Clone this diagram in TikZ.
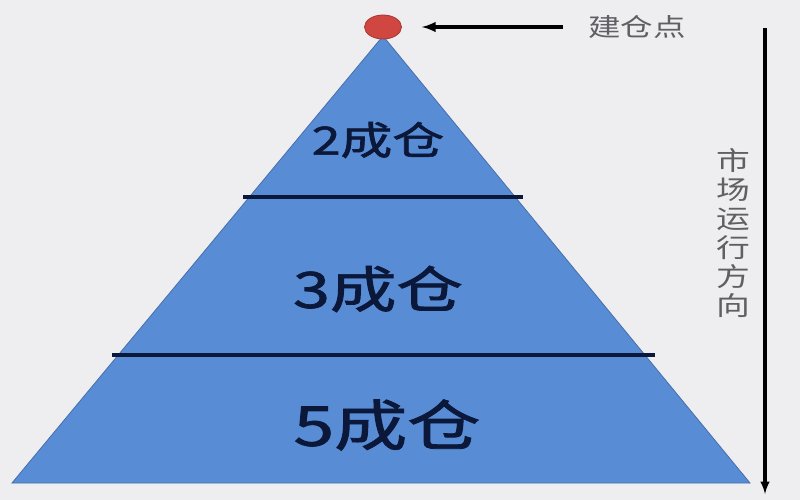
\documentclass[tikz,border=0pt]{standalone}
\usepackage{fontspec}
\newfontfamily\cjk{Noto Sans CJK SC}
\newfontfamily\cjkheavy{Noto Sans CJK SC}[FakeBold=1.4]
\usetikzlibrary{calc, shapes.geometric}
\definecolor{paperGrey}{RGB}{238, 237, 240}
\definecolor{pyrBlue}{RGB}{88, 141, 214}
\definecolor{pyrEdge}{RGB}{70, 110, 170}
\definecolor{levelNavy}{RGB}{12, 24, 58}
\definecolor{dotRed}{RGB}{208, 70, 64}
\definecolor{sideGrey}{RGB}{95, 95, 100}

\begin{document}
\begin{tikzpicture} [
        x=1pt, y=-1pt,
        level text/.style={text=levelNavy, inner sep=0pt, xscale=1.33},
        level line/.style={draw=levelNavy, line width=3.6pt},
        build dot/.style={draw=dotRed!80!black, fill=dotRed, ellipse, minimum width=37pt, minimum height=24pt, inner sep=0pt, line width=.8pt},
        side text/.style={text=sideGrey, inner sep=0pt, xscale=1.3},
        pointer/.style={-latex, line width=3.6pt, draw=black},
    ]

    % background
    \fill[paperGrey] (0,0) rectangle (800,500);
    \useasboundingbox (0,0) rectangle (800,500);

    % pyramid
    \coordinate (apex) at (383,36);
    \coordinate (base left) at (12,483);
    \coordinate (base right) at (750,483);
    \draw[pyrEdge, fill=pyrBlue, line width=.8pt] (apex) -- (base right) -- (base left) -- cycle;

    \coordinate (cut 1 left) at (243,197);
    \coordinate (cut 1 right) at (523,197);
    \coordinate (cut 2 left) at (112,355);
    \coordinate (cut 2 right) at (655,355);
    \draw[level line] (cut 1 left) -- (cut 1 right);
    \draw[level line] (cut 2 left) -- (cut 2 right);

    \path (378,140) node[level text, font=\cjkheavy\fontsize{39}{39}\selectfont] (level 2) {2成仓};
    \path (378,289) node[level text, font=\cjkheavy\fontsize{50}{50}\selectfont] (level 3) {3成仓};
    \path (387,425) node[level text, font=\cjkheavy\fontsize{55}{55}\selectfont] (level 5) {5成仓};

    % build point
    \path (383,27) node[build dot] (dot) {};
    \path (637,27) node[side text, font=\cjk\fontsize{25}{25}\selectfont] (build label) {建仓点};
    \draw[pointer] ($ (build label.west) + (-25,0) $) -- ($ (dot.east) + (20,0) $);

    % market direction
    \path (733,233) node[side text, align=center, font=\cjk\fontsize{26}{29}\selectfont] (direction label) {市\\场\\运\\行\\方\\向};
    \coordinate (flow top) at (765,28);
    \coordinate (flow bottom) at (765,494);
    \draw[-latex, line width=3.2pt] (flow top) -- (flow bottom);

\end{tikzpicture}
\end{document}
